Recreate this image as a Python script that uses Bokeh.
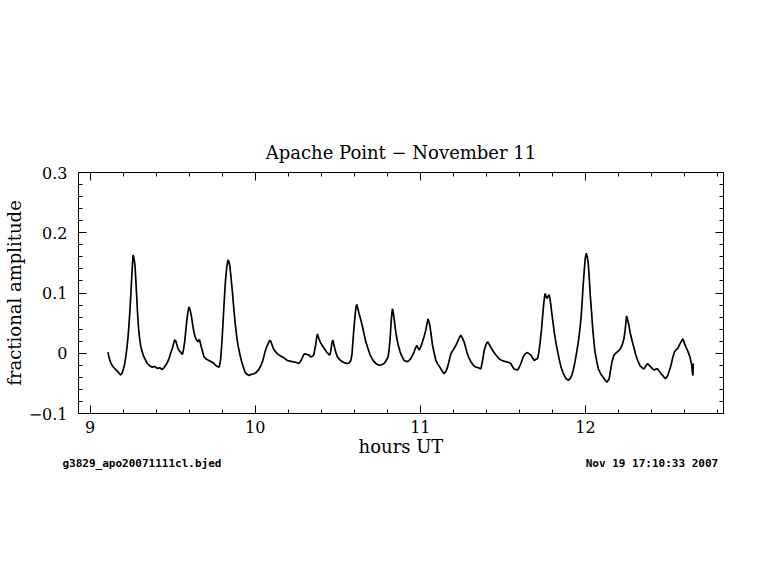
import math
from bokeh.plotting import figure
from bokeh.models import (Range1d, LinearAxis, SingleIntervalTicker, Title,
                          CustomJSTickFormatter)
from bokeh.embed import file_html
from bokeh.resources import INLINE

# ---- data ----
hours = [
    9.108, 9.116, 9.124, 9.138, 9.155, 9.170, 9.185, 9.193, 9.200, 9.208,
    9.215, 9.222, 9.229, 9.235, 9.241, 9.247, 9.252, 9.257, 9.261, 9.266,
    9.272, 9.277, 9.282, 9.287, 9.292, 9.299, 9.306, 9.316, 9.326, 9.337,
    9.347, 9.362, 9.377, 9.392, 9.407, 9.422, 9.437, 9.447, 9.458, 9.468,
    9.478, 9.488, 9.498, 9.506, 9.512, 9.518, 9.524, 9.531, 9.538, 9.548,
    9.559, 9.566, 9.573, 9.579, 9.585, 9.592, 9.599, 9.606, 9.613, 9.621,
    9.629, 9.637, 9.645, 9.654, 9.662, 9.668, 9.674, 9.682, 9.690, 9.705,
    9.720, 9.735, 9.750, 9.761, 9.771, 9.781, 9.786, 9.791, 9.796, 9.801,
    9.806, 9.811, 9.816, 9.821, 9.828, 9.835, 9.841, 9.847, 9.854, 9.862,
    9.870, 9.878, 9.887, 9.896, 9.906, 9.916, 9.927, 9.938, 9.950, 9.962,
    9.977, 9.993, 10.006, 10.019, 10.032, 10.044, 10.052, 10.059, 10.070, 10.080,
    10.087, 10.094, 10.102, 10.110, 10.122, 10.135, 10.150, 10.165, 10.180, 10.195,
    10.210, 10.225, 10.245, 10.265, 10.276, 10.286, 10.294, 10.302, 10.314, 10.326,
    10.336, 10.347, 10.356, 10.362, 10.367, 10.372, 10.377, 10.385, 10.393, 10.403,
    10.413, 10.423, 10.433, 10.443, 10.452, 10.458, 10.462, 10.467, 10.470, 10.476,
    10.482, 10.490, 10.498, 10.513, 10.528, 10.543, 10.559, 10.569, 10.579, 10.586,
    10.593, 10.599, 10.605, 10.610, 10.615, 10.622, 10.629, 10.640, 10.650, 10.660,
    10.670, 10.683, 10.696, 10.708, 10.720, 10.735, 10.750, 10.765, 10.781, 10.793,
    10.805, 10.811, 10.817, 10.821, 10.825, 10.831, 10.836, 10.841, 10.849, 10.858,
    10.868, 10.878, 10.890, 10.902, 10.912, 10.922, 10.932, 10.942, 10.952, 10.962,
    10.970, 10.979, 10.986, 10.993, 11.003, 11.013, 11.023, 11.033, 11.041, 11.047,
    11.052, 11.058, 11.066, 11.074, 11.084, 11.094, 11.106, 11.118, 11.131, 11.144,
    11.155, 11.165, 11.175, 11.185, 11.195, 11.205, 11.215, 11.225, 11.235, 11.245,
    11.255, 11.265, 11.275, 11.285, 11.295, 11.306, 11.321, 11.336, 11.352, 11.367,
    11.377, 11.387, 11.397, 11.407, 11.417, 11.427, 11.442, 11.458, 11.473, 11.488,
    11.503, 11.518, 11.533, 11.548, 11.558, 11.568, 11.578, 11.588, 11.598, 11.609,
    11.619, 11.629, 11.639, 11.649, 11.660, 11.670, 11.680, 11.690, 11.700, 11.710,
    11.718, 11.726, 11.734, 11.741, 11.748, 11.755, 11.761, 11.767, 11.774, 11.781,
    11.788, 11.795, 11.803, 11.811, 11.821, 11.832, 11.842, 11.852, 11.864, 11.876,
    11.886, 11.896, 11.907, 11.917, 11.927, 11.937, 11.947, 11.957, 11.965, 11.973,
    11.980, 11.986, 11.993, 11.999, 12.005, 12.011, 12.017, 12.023, 12.029, 12.037,
    12.044, 12.051, 12.058, 12.068, 12.078, 12.092, 12.105, 12.118, 12.130, 12.138,
    12.144, 12.152, 12.160, 12.173, 12.183, 12.193, 12.203, 12.213, 12.223, 12.233,
    12.241, 12.249, 12.255, 12.263, 12.270, 12.277, 12.284, 12.295, 12.305, 12.318,
    12.331, 12.343, 12.355, 12.366, 12.376, 12.387, 12.397, 12.407, 12.417, 12.427,
    12.437, 12.447, 12.458, 12.471, 12.484, 12.491, 12.498, 12.508, 12.518, 12.528,
    12.539, 12.549, 12.559, 12.569, 12.579, 12.590, 12.600, 12.609, 12.619, 12.629,
    12.636, 12.644, 12.648, 12.651, 12.653,
]
amplitude = [
    0.002, -0.008, -0.015, -0.022, -0.027, -0.031, -0.036, -0.033, -0.028, -0.020,
    -0.008, 0.006, 0.024, 0.045, 0.069, 0.098, 0.124, 0.150, 0.163, 0.158,
    0.146, 0.122, 0.097, 0.070, 0.047, 0.027, 0.013, 0.002, -0.006, -0.012,
    -0.017, -0.021, -0.023, -0.022, -0.025, -0.024, -0.027, -0.024, -0.020, -0.015,
    -0.009, 0.000, 0.008, 0.016, 0.022, 0.021, 0.016, 0.009, 0.005, 0.002,
    -0.002, 0.006, 0.019, 0.036, 0.052, 0.068, 0.077, 0.072, 0.063, 0.048,
    0.035, 0.027, 0.022, 0.019, 0.023, 0.017, 0.010, 0.002, -0.006, -0.010,
    -0.012, -0.014, -0.017, -0.020, -0.022, -0.023, -0.018, -0.009, 0.008, 0.030,
    0.055, 0.080, 0.103, 0.124, 0.143, 0.155, 0.152, 0.144, 0.125, 0.102,
    0.076, 0.052, 0.030, 0.013, 0.000, -0.012, -0.022, -0.031, -0.035, -0.037,
    -0.035, -0.034, -0.032, -0.028, -0.022, -0.014, -0.006, 0.002, 0.011, 0.017,
    0.021, 0.020, 0.014, 0.008, 0.003, -0.001, -0.004, -0.006, -0.009, -0.012,
    -0.013, -0.014, -0.015, -0.017, -0.013, -0.007, -0.002, -0.001, -0.002, -0.003,
    -0.006, -0.005, -0.002, 0.008, 0.015, 0.025, 0.032, 0.025, 0.019, 0.014,
    0.010, 0.006, 0.002, -0.001, -0.003, 0.004, 0.012, 0.020, 0.022, 0.015,
    0.008, 0.000, -0.006, -0.011, -0.014, -0.016, -0.017, -0.016, -0.012, -0.002,
    0.024, 0.045, 0.063, 0.076, 0.081, 0.074, 0.066, 0.055, 0.044, 0.031,
    0.019, 0.008, -0.003, -0.009, -0.014, -0.018, -0.020, -0.019, -0.017, -0.012,
    -0.006, 0.006, 0.024, 0.042, 0.058, 0.074, 0.068, 0.058, 0.040, 0.024,
    0.012, 0.002, -0.006, -0.012, -0.013, -0.014, -0.012, -0.009, -0.004, 0.002,
    0.008, 0.013, 0.009, 0.005, 0.011, 0.019, 0.028, 0.038, 0.050, 0.057,
    0.052, 0.046, 0.030, 0.013, 0.000, -0.012, -0.018, -0.023, -0.029, -0.034,
    -0.030, -0.023, -0.012, -0.001, 0.004, 0.008, 0.013, 0.019, 0.025, 0.030,
    0.025, 0.019, 0.009, -0.001, -0.008, -0.014, -0.020, -0.023, -0.024, -0.026,
    -0.012, 0.005, 0.014, 0.019, 0.015, 0.010, 0.003, -0.003, -0.008, -0.011,
    -0.013, -0.014, -0.015, -0.017, -0.022, -0.026, -0.027, -0.028, -0.024, -0.017,
    -0.009, -0.003, 0.000, 0.001, -0.001, -0.003, -0.008, -0.012, -0.010, -0.009,
    0.002, 0.019, 0.040, 0.063, 0.084, 0.099, 0.095, 0.091, 0.095, 0.097,
    0.085, 0.069, 0.052, 0.035, 0.018, 0.002, -0.011, -0.023, -0.032, -0.039,
    -0.043, -0.045, -0.042, -0.037, -0.027, -0.014, 0.002, 0.019, 0.037, 0.058,
    0.085, 0.113, 0.138, 0.158, 0.166, 0.160, 0.149, 0.125, 0.097, 0.068,
    0.041, 0.020, 0.002, -0.013, -0.026, -0.034, -0.039, -0.044, -0.048, -0.045,
    -0.042, -0.028, -0.015, -0.003, 0.000, 0.002, 0.005, 0.008, 0.014, 0.024,
    0.040, 0.062, 0.056, 0.047, 0.035, 0.027, 0.019, 0.008, -0.003, -0.013,
    -0.021, -0.024, -0.026, -0.021, -0.017, -0.020, -0.023, -0.026, -0.028, -0.026,
    -0.026, -0.030, -0.034, -0.038, -0.042, -0.040, -0.037, -0.029, -0.020, -0.008,
    0.002, 0.006, 0.008, 0.014, 0.019, 0.024, 0.016, 0.010, 0.004, -0.003,
    -0.010, -0.020, -0.033, -0.037, -0.017,
]

title_text = "Apache Point \u2212 November 11"
x_label = "hours UT"
y_label = "fractional amplitude"
file_label = "g3829_apo20071111cl.bjed"
date_label = "Nov 19 17:10:33 2007"

X_START, X_END = 8.930, 12.836
Y_START, Y_END = -0.1, 0.3001

SERIF = "DejaVu Serif"
MONO = "DejaVu Sans Mono"

p = figure(width=768, height=574, output_backend="svg", toolbar_location=None,
           x_range=Range1d(X_START, X_END), y_range=Range1d(Y_START, Y_END),
           x_axis_type=None, y_axis_type=None,
           min_border_left=78, min_border_right=45,
           min_border_top=172, min_border_bottom=161)
p.background_fill_color = "white"
p.border_fill_color = "white"
p.outline_line_color = "black"
p.outline_line_width = 1

p.title.text = title_text
p.title.align = "center"
p.title.text_font = SERIF
p.title.text_font_size = "18px"
p.title.text_font_style = "normal"
p.title.text_color = "black"
p.title.standoff = 20


def make_axis(ticker, show_labels, formatter=None):
    kw = dict(ticker=ticker,
              axis_line_color="black", axis_line_width=1,
              major_tick_in=8, major_tick_out=0,
              minor_tick_in=4, minor_tick_out=0,
              major_tick_line_color="black", minor_tick_line_color="black",
              major_label_text_font=SERIF, major_label_text_color="black",
              axis_label_text_font=SERIF, axis_label_text_font_size="18px",
              axis_label_text_font_style="normal", axis_label_text_color="black")
    if formatter is not None:
        kw["formatter"] = formatter
    if show_labels:
        kw.update(major_label_text_font_size="16px")
    else:
        kw.update(major_label_text_font_size="0px", major_label_standoff=0,
                  major_label_text_alpha=0)
    return LinearAxis(**kw)


yfmt = CustomJSTickFormatter(code="""
const v = Math.round(tick * 10) / 10;
if (v === 0) return "0";
return (v < 0 ? "\\u2212" : "") + Math.abs(v).toFixed(1);
""")

bottom = make_axis(SingleIntervalTicker(interval=1, num_minor_ticks=5), True)
bottom.major_label_standoff = 7
bottom.axis_label = x_label
bottom.axis_label_standoff = 0
top = make_axis(SingleIntervalTicker(interval=1, num_minor_ticks=5), False)
left = make_axis(SingleIntervalTicker(interval=0.1, num_minor_ticks=5), True, yfmt)
left.major_label_standoff = 11
left.axis_label = y_label
left.axis_label_standoff = 1
right = make_axis(SingleIntervalTicker(interval=0.1, num_minor_ticks=5), False, yfmt)

p.add_layout(bottom, "below")
p.add_layout(top, "above")
p.add_layout(left, "left")
p.add_layout(right, "right")

# footer line: file name at the left, date at the right (monospaced, padded)
pad = 99 - len(file_label) - len(date_label)
footer = Title(text=file_label + "\u00a0" * pad + date_label, align="left",
               offset=-16, standoff=-9, text_font=MONO, text_font_size="11px",
               text_font_style="bold", text_color="black")
p.add_layout(footer, "below")

p.line(hours, amplitude, line_color="black", line_width=1.7)

open("out.html", "w").write(file_html(p, INLINE))
